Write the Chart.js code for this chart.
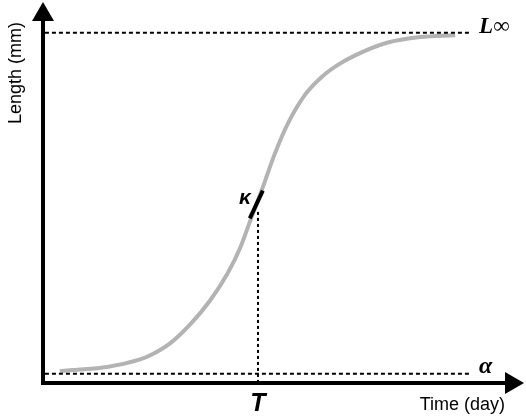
<!DOCTYPE html>
<html>
<head>
<meta charset="utf-8">
<script src="https://cdn.jsdelivr.net/npm/chart.js@4"></script>
<style>
  body { margin: 0; background: #fff; }
  #wrap { width: 526px; height: 417px; }
</style>
</head>
<body>
<div id="wrap"><canvas id="growthChart"></canvas></div>
<script>
// growth curve (time vs length, arbitrary units 0-100)
const timeVals   = [3.5, 6.2, 13.3, 20.2, 22.2, 26.4, 30.6, 34.7, 38.3, 41.0, 43.0, 45.5, 48.2, 50.9, 54.5, 58.0, 61.3, 64.9, 71.5, 78.4, 85.7];
const lengthVals = [3.1, 3.4, 4.2, 6.2, 7.2, 10.4, 15.4, 21.6, 28.6, 35.5, 42.3, 50.7, 60.2, 68.1, 75.7, 80.4, 83.5, 86.0, 89.3, 90.8, 91.3];

const asymptoteTop = 91.9;   // L∞
const asymptoteBottom = 2.4; // α
const asymptoteX = [0.4, 89];
const inflectionT = 44.7;    // T
const inflectionY = 44.9;
const tangentX = [43.0, 45.7];
const tangentY = [43.2, 50.5];

const axisMax = 100;

const curve = timeVals.map((t, i) => ({x: t, y: lengthVals[i]}));

const sansFont = "'Liberation Sans', Arial, Helvetica, sans-serif";
const serifFont = "'Liberation Serif', 'Times New Roman', serif";

// axes with arrow heads and the annotation texts
const axesPlugin = {
  id: 'axesPlugin',
  afterDraw(chart) {
    const ctx = chart.ctx;
    const xs = chart.scales.x;
    const ys = chart.scales.y;
    const x0 = xs.getPixelForValue(0);
    const y0 = ys.getPixelForValue(0);
    const xEnd = xs.getPixelForValue(axisMax);
    const yEnd = ys.getPixelForValue(axisMax);

    ctx.save();
    ctx.strokeStyle = '#000';
    ctx.fillStyle = '#000';
    ctx.lineWidth = 4;
    ctx.lineCap = 'butt';
    ctx.beginPath();
    ctx.moveTo(x0, yEnd + 16);
    ctx.lineTo(x0, y0 + 2);
    ctx.moveTo(x0 - 2, y0);
    ctx.lineTo(xEnd - 16, y0);
    ctx.stroke();

    // arrow heads
    ctx.beginPath();
    ctx.moveTo(x0, yEnd);
    ctx.lineTo(x0 - 11, yEnd + 19);
    ctx.lineTo(x0 + 11, yEnd + 19);
    ctx.closePath();
    ctx.fill();
    ctx.beginPath();
    ctx.moveTo(xEnd, y0);
    ctx.lineTo(xEnd - 19, y0 - 11);
    ctx.lineTo(xEnd - 19, y0 + 11);
    ctx.closePath();
    ctx.fill();

    // axis titles
    ctx.font = '18px ' + sansFont;
    ctx.textAlign = 'right';
    ctx.textBaseline = 'alphabetic';
    ctx.fillText('Time (day)', xEnd - 19, y0 + 27);

    ctx.save();
    ctx.translate(x0 - 22, yEnd + 20);
    ctx.rotate(-Math.PI / 2);
    ctx.textAlign = 'right';
    ctx.fillText('Length (mm)', 0, 0);
    ctx.restore();

    // T under the axis
    ctx.font = 'italic bold 25px ' + sansFont;
    ctx.textAlign = 'center';
    ctx.fillText('T', xs.getPixelForValue(inflectionT), y0 + 28);

    // kappa beside the tangent
    ctx.font = 'italic bold 21px ' + sansFont;
    ctx.textAlign = 'right';
    ctx.fillText('κ', xs.getPixelForValue(tangentX[0]) + 1, ys.getPixelForValue(tangentY[1]) + 13);

    // L∞ and α at the asymptotes
    const labX = xs.getPixelForValue(asymptoteX[1]) + 8;
    ctx.textAlign = 'left';
    ctx.font = 'italic bold 23px ' + serifFont;
    ctx.fillText('L', labX, ys.getPixelForValue(asymptoteTop));
    const lw = ctx.measureText('L').width;
    ctx.font = '23px ' + serifFont;
    ctx.fillText('∞', labX + lw, ys.getPixelForValue(asymptoteTop));
    ctx.font = 'italic bold 24px ' + serifFont;
    ctx.fillText('α', labX, ys.getPixelForValue(asymptoteBottom) - 1);
    ctx.restore();
  }
};

const dashed = {borderColor: '#000', borderWidth: 2, borderDash: [4, 3], pointRadius: 0, tension: 0};

// chart.js paints dataset 0 last, so the tangent goes first to sit on top
new Chart(document.getElementById('growthChart').getContext('2d'), {
  type: 'line',
  data: {
    datasets: [
      {
        label: 'κ',
        data: tangentX.map((x, i) => ({x: x, y: tangentY[i]})),
        borderColor: '#000',
        borderWidth: 4,
        pointRadius: 0
      },
      Object.assign({
        label: 'L∞',
        data: asymptoteX.map(x => ({x: x, y: asymptoteTop}))
      }, dashed),
      Object.assign({
        label: 'α',
        data: asymptoteX.map(x => ({x: x, y: asymptoteBottom}))
      }, dashed),
      Object.assign({
        label: 'T',
        data: [{x: inflectionT, y: inflectionY}, {x: inflectionT, y: 0}],
        borderDash: [3, 3]
      }, {borderColor: '#000', borderWidth: 2, pointRadius: 0}),
      {
        label: 'growth',
        data: curve,
        borderColor: '#b3b3b3',
        borderWidth: 4,
        pointRadius: 0,
        cubicInterpolationMode: 'monotone'
      }
    ]
  },
  options: {
    responsive: true,
    maintainAspectRatio: false,
    animation: false,
    layout: {padding: {left: 43, right: 2, top: 2, bottom: 34}},
    scales: {
      x: {type: 'linear', min: 0, max: axisMax, display: false},
      y: {type: 'linear', min: 0, max: axisMax, display: false}
    },
    plugins: {
      legend: {display: false},
      tooltip: {enabled: false}
    }
  },
  plugins: [axesPlugin]
});
</script>
</body>
</html>
